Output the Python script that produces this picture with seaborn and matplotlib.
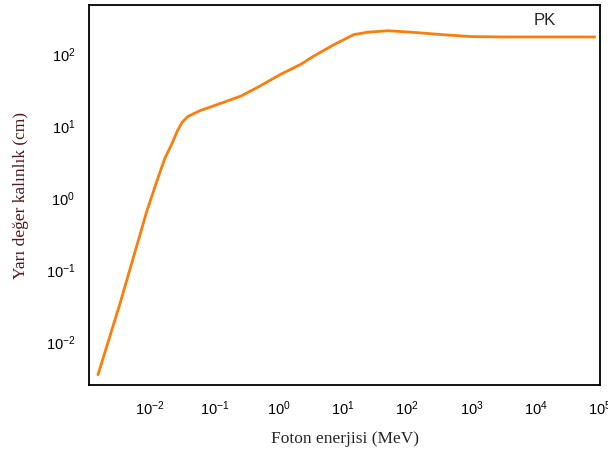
import numpy as np
import pandas as pd
import seaborn as sns
import matplotlib.pyplot as plt

# Dados (energia em MeV, espessura em cm)
energia = [0.00155, 0.0034, 0.0089, 0.0129, 0.017, 0.022, 0.0265, 0.0315, 0.039,
           0.06, 0.138, 0.26, 0.47, 1.07, 2.2, 3.5, 7.2, 14.8, 24.5, 50, 115,
           340, 1000, 2950, 83000]
espessura = [0.0035, 0.034, 0.66, 1.78, 3.6, 5.8, 8.6, 11.4, 13.8,
             16.6, 21.6, 26.5, 35, 53, 73, 95, 137, 190, 205, 215, 205,
             190, 178, 176, 176]
rotulo_curva = "PK"
xticks = [1e-2, 1e-1, 1e0, 1e1, 1e2, 1e3, 1e4, 1e5]
yticks = [1e-2, 1e-1, 1e0, 1e1, 1e2]

df = pd.DataFrame({"energia": energia, "espessura": espessura})

sns.set_style("white")
plt.rcParams["font.family"] = ["Liberation Sans", "DejaVu Sans"]
plt.rcParams["mathtext.fontset"] = "custom"
plt.rcParams["mathtext.rm"] = "Liberation Sans"
plt.rcParams["mathtext.it"] = "Liberation Sans"

fig = plt.figure(figsize=(6.08, 4.49), dpi=100)
ax = fig.add_axes([0.1464, 0.1425, 0.8405, 0.8463])

sns.lineplot(data=df, x="energia", y="espessura", color="#fb7d0c", linewidth=2.0, ax=ax)
ax.set_xscale("log")
ax.set_yscale("log")
ax.set_xlim(10 ** -2.95, 1e5)
ax.set_ylim(10 ** -2.6, 10 ** 2.69)

ax.set_xticks(xticks)
ax.set_yticks(yticks)
ax.xaxis.set_minor_locator(plt.NullLocator())
ax.yaxis.set_minor_locator(plt.NullLocator())
ax.tick_params(length=0, labelsize=10.5, pad=10, colors="black")

for s in ax.spines.values():
    s.set_color("black")
    s.set_linewidth(1.3)

ax.text(1.4e4, 300, rotulo_curva, fontsize=12, ha="center", va="center")

ax.set_xlabel("Foton enerjisi (MeV)", family="Liberation Serif", fontsize=12.5, labelpad=10)
ax.set_ylabel("Yarı değer kalınlık (cm)", family="Liberation Serif", fontsize=12.5,
              color="#4b1a1a", labelpad=12)

plt.savefig("out.png", dpi=100)
